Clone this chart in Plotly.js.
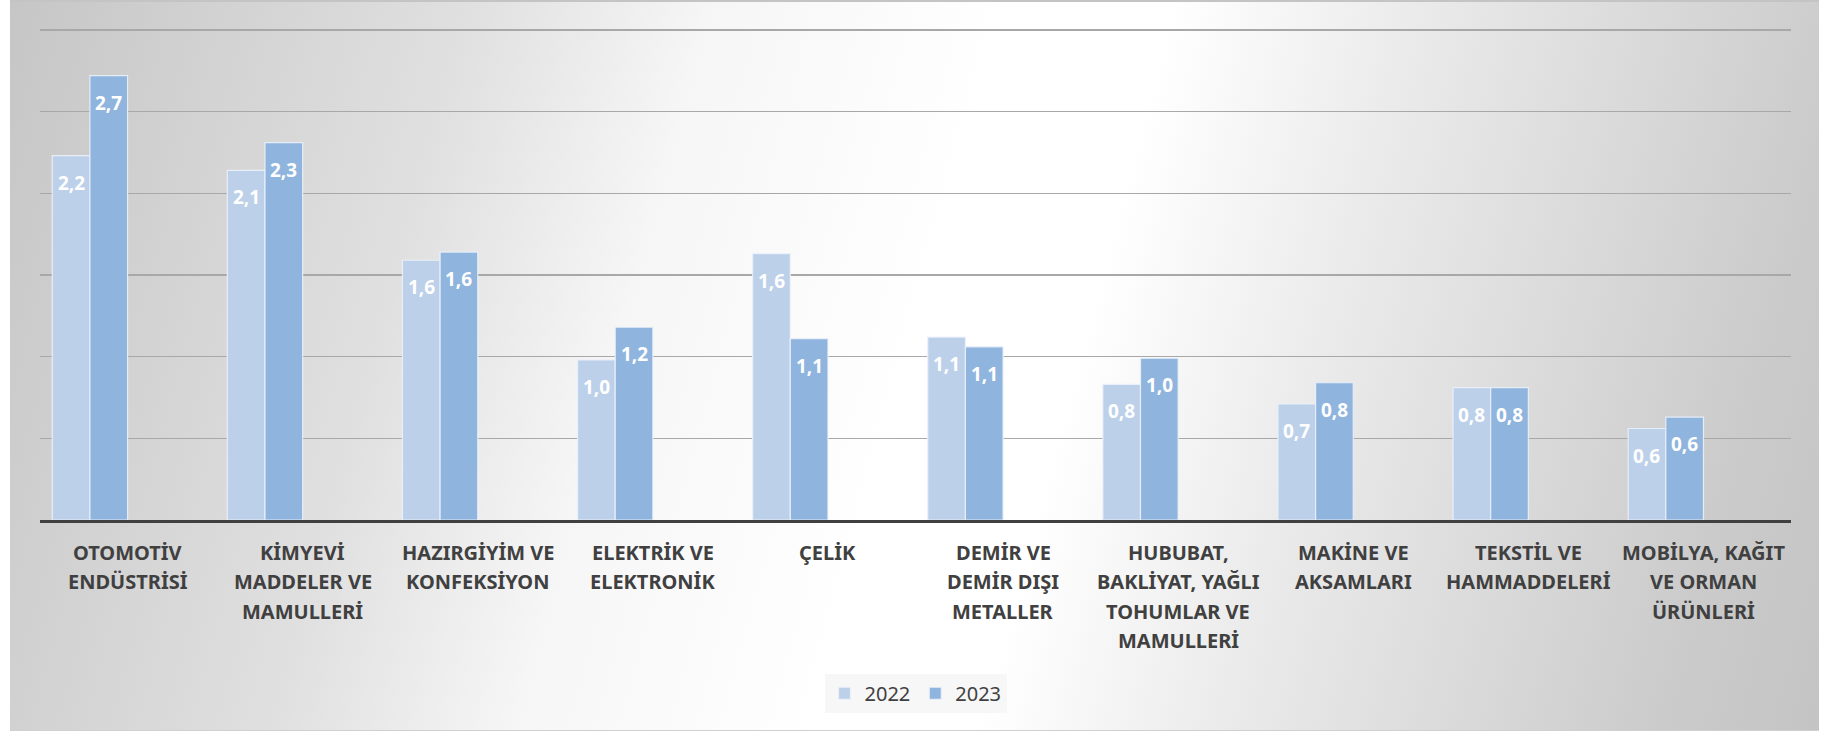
<!DOCTYPE html>
<html>
<head>
<meta charset="utf-8">
<script src="https://cdn.plot.ly/plotly-3.0.1.min.js"></script>
<style>
  html, body { margin: 0; padding: 0; background: #ffffff; }
  #bg {
    position: absolute; left: 10px; top: 0px; width: 1809px; height: 728px;
    border-top: 2px solid #c4c4c4; border-bottom: 1px solid #d0d0d0;
    background: linear-gradient(105deg, #c6c6c6 0%, #e0e0e0 23%, #f6f6f6 35%, #ffffff 50%, #ffffff 58%, #ebebeb 70%, #cbcbcb 92%, #c4c4c4 100%);
  }
  #chart { position: absolute; left: 0; top: 0; width: 1823px; height: 731px; }
</style>
</head>
<body>
<div id="bg"></div>
<div id="chart"></div>
<script>
const categories = [
  "OTOMOTİV<br>ENDÜSTRİSİ",
  "KİMYEVİ<br>MADDELER VE<br>MAMULLERİ",
  "HAZIRGİYİM VE<br>KONFEKSİYON",
  "ELEKTRİK VE<br>ELEKTRONİK",
  "ÇELİK",
  "DEMİR VE<br>DEMİR DIŞI<br>METALLER",
  "HUBUBAT,<br>BAKLİYAT, YAĞLI<br>TOHUMLAR VE<br>MAMULLERİ",
  "MAKİNE VE<br>AKSAMLARI",
  "TEKSTİL VE<br>HAMMADDELERİ",
  "MOBİLYA, KAĞIT<br>VE ORMAN<br>ÜRÜNLERİ"
];
const series2022 = [2.23, 2.14, 1.59, 0.98, 1.63, 1.12, 0.83, 0.71, 0.81, 0.56];
const series2023 = [2.72, 2.31, 1.64, 1.18, 1.11, 1.06, 0.99, 0.84, 0.81, 0.63];
const seriesNames = ["2022", "2023"];
const seriesColors = ["#bdd0e9", "#8fb4de"];

const FONT = "Noto Sans, Open Sans, DejaVu Sans, sans-serif";
const BARGAP = 0.57;
const nSeries = 2;
const barW = (1 - BARGAP) / nSeries;

const idx = categories.map((c, i) => i);
const allSeries = [series2022, series2023];

const traces = allSeries.map((vals, s) => ({
  type: "bar",
  name: seriesNames[s],
  x: idx,
  y: vals,
  marker: { color: seriesColors[s], line: { color: "rgba(235,241,250,0.9)", width: 1.2 } },
  hoverinfo: "skip"
}));

const annotations = [];
// data labels (inside end of each bar, Excel style)
allSeries.forEach((vals, s) => {
  const off = (s - (nSeries - 1) / 2) * barW;
  vals.forEach((v, i) => {
    annotations.push({
      x: i + off, xref: "x",
      y: v, yref: "y",
      yanchor: "middle", xanchor: "center",
      yshift: -27,
      text: "<b>" + v.toFixed(1).replace(".", ",") + "</b>",
      showarrow: false,
      font: { family: FONT, size: 19, color: "#ffffff" }
    });
  });
});
// category labels
categories.forEach((c, i) => {
  c.split("<br>").forEach((line, k) => {
    annotations.push({
      x: i + 0.215, xref: "x",
      y: 0, yref: "paper",
      yanchor: "middle", xanchor: "center",
      yshift: -32 - k * 29.5,
      text: "<b>" + line + "</b>",
      showarrow: false,
      font: { family: FONT, size: 20, color: "#404040" }
    });
  });
});

const layout = {
  width: 1823, height: 731,
  margin: { l: 40, r: 32, t: 25, b: 211 },
  paper_bgcolor: "rgba(0,0,0,0)",
  plot_bgcolor: "rgba(0,0,0,0)",
  barmode: "group",
  bargap: BARGAP,
  bargroupgap: 0,
  showlegend: true,
  legend: {
    orientation: "h",
    x: 0.5, xanchor: "center",
    y: -0.35, yanchor: "middle",
    bgcolor: "#f7f7f7",
    font: { family: FONT, size: 20, color: "#404040" },
    itemclick: false
  },
  xaxis: {
    type: "linear",
    range: [-0.285, 9.715],
    showticklabels: false,
    showgrid: false,
    zeroline: false,
    showline: true,
    linecolor: "#404040",
    linewidth: 3,
    ticks: ""
  },
  yaxis: {
    range: [0, 3.03],
    tick0: 0,
    dtick: 0.5,
    showticklabels: false,
    showgrid: true,
    gridcolor: "#a8a8a8",
    gridwidth: 1.5,
    zeroline: false,
    showline: false,
    ticks: ""
  },
  annotations: annotations
};

Plotly.newPlot("chart", traces, layout, { displayModeBar: false, staticPlot: true });
</script>
</body>
</html>
